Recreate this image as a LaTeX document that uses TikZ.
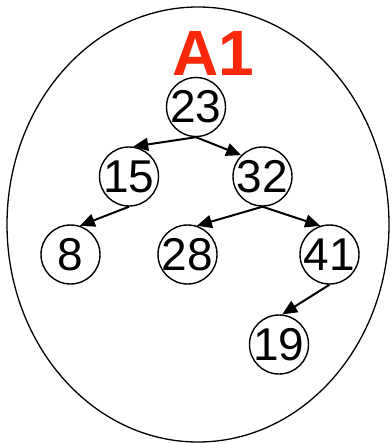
\documentclass[tikz,border=0pt]{standalone}
\usepackage{fontspec}
\setmainfont{Liberation Sans}
\usetikzlibrary{arrows.meta,shapes.geometric}
\definecolor{titlered}{RGB}{250,40,10}
\begin{document}
\begin{tikzpicture}[x=1pt,y=-1pt,
  key/.style={draw,circle,line width=1.4pt,minimum size=59pt,inner sep=0pt,
    label={[keytext]center:#1}},
  keytext/.style={inner sep=0pt,font=\fontsize{46}{46}\selectfont},
  link/.style={line width=2pt,-{Triangle[length=15pt,width=13pt]}}]
\useasboundingbox (0,0) rectangle (391,444);
\node[draw,ellipse,line width=1.3pt,minimum width=382pt,minimum height=435pt,inner sep=0pt] (set) at (198,224.5) {};
\node[text=titlered,font=\fontsize{64}{64}\selectfont\bfseries,inner sep=0pt] (title) at (213,53) {A1};
\node[key=23] (n23) at (196,107) {};
\node[key=15] (n15) at (129,176.5) {};
\node[key=32] (n32) at (262.5,176.5) {};
\node[key=8] (n8) at (70.5,254.5) {};
\node[key=28] (n28) at (187.5,254.5) {};
\node[key=41] (n41) at (329.5,254.5) {};
\node[key=19] (n19) at (279,344.5) {};
\draw[link] (n23.south) -- (n15.82);
\draw[link] (n23.south) -- (n32.135);
\draw[link] (n15.south) -- (n8.72);
\draw[link] (n32.south) -- (n28.72);
\draw[link] (n32.south) -- (n41.108);
\draw[link] (n41.south) -- (n19.84);
\end{tikzpicture}
\end{document}
